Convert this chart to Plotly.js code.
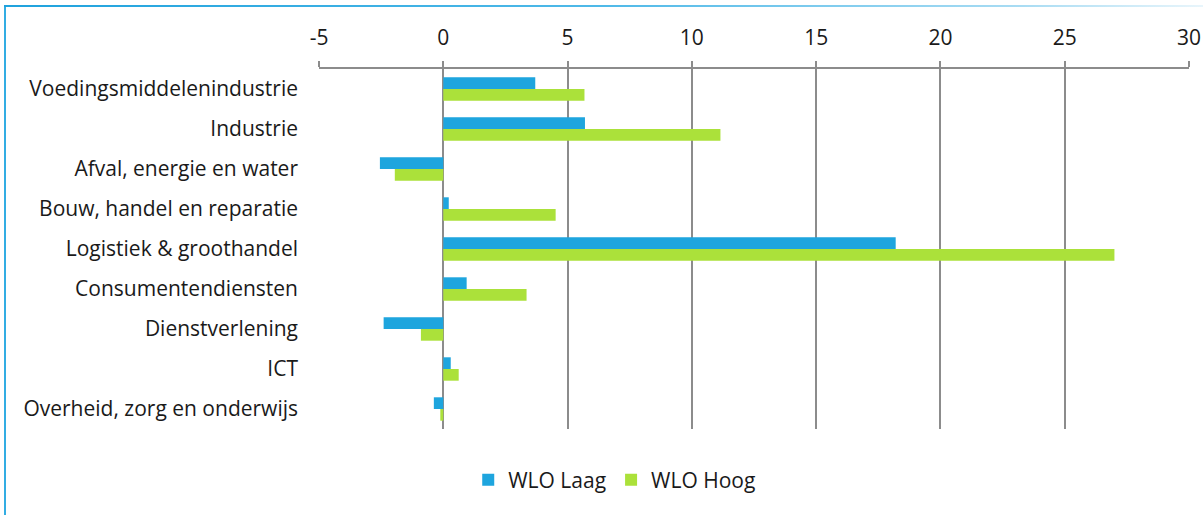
<!DOCTYPE html>
<html>
<head>
<meta charset="utf-8">
<script src="https://cdn.plot.ly/plotly-3.0.1.min.js"></script>
<style>
  html, body { margin: 0; padding: 0; background: #fff; }
  #wrap { position: relative; width: 1203px; height: 515px; }
  #chart { width: 1203px; height: 515px; }
  #bl { position: absolute; left: 4px; top: 6px; width: 2px; height: 509px; background: #33ade3; pointer-events: none; }
  #bt { position: absolute; left: 4px; top: 5px; width: 1199px; height: 2px; pointer-events: none;
        background: linear-gradient(to right, #1fa2dd 0%, #4fb9e8 50%, #a9dcf3 85%, #e8f5fb 100%); }
</style>
</head>
<body>
<div id="wrap">
  <div id="chart"></div>
  <div id="bl"></div>
  <div id="bt"></div>
</div>
<script>
const categories = [
  "Voedingsmiddelenindustrie",
  "Industrie",
  "Afval, energie en water",
  "Bouw, handel en reparatie",
  "Logistiek & groothandel",
  "Consumentendiensten",
  "Dienstverlening",
  "ICT",
  "Overheid, zorg en onderwijs"
];
const wloLaag = [3.7, 5.7, -2.55, 0.22, 18.2, 0.94, -2.4, 0.3, -0.38];
const wloHoog = [5.68, 11.15, -1.95, 4.52, 27.0, 3.35, -0.9, 0.62, -0.12];
const xTickVals = [-5, 0, 5, 10, 15, 20, 25, 30];

const font = "'Open Sans', sans-serif";
const fsize = 21;

const traces = [
  {
    type: "bar", orientation: "h", name: "WLO Laag",
    y: categories, x: wloLaag,
    marker: { color: "#1ea5de" },
    hoverinfo: "x+name"
  },
  {
    type: "bar", orientation: "h", name: "WLO Hoog",
    y: categories, x: wloHoog,
    marker: { color: "#abe13a" },
    hoverinfo: "x+name"
  }
];

const boundaries = categories.map((_, i) => i - 0.5).concat([categories.length - 0.5]);

const layout = {
  width: 1203, height: 515,
  margin: { l: 319, r: 14, t: 69, b: 86 },
  paper_bgcolor: "rgba(0,0,0,0)",
  plot_bgcolor: "rgba(0,0,0,0)",
  font: { family: font, size: fsize, color: "#1a1a1a" },
  barmode: "group",
  bargap: 0.415,
  bargroupgap: 0,
  showlegend: true,
  legend: {
    orientation: "h",
    xref: "container", yref: "container",
    x: 0.511, xanchor: "center",
    y: 0.068, yanchor: "middle",
    font: { family: font, size: fsize, color: "#1a1a1a" },
    itemwidth: 30,
    traceorder: "normal"
  },
  xaxis: {
    side: "top",
    range: [-5, 30],
    tickmode: "array",
    tickvals: xTickVals,
    ticktext: xTickVals.map(String),
    ticks: "outside", ticklen: 6, tickwidth: 2, tickcolor: "#8c8c8c",
    ticklabelstandoff: 8,
    showline: true, linecolor: "#8c8c8c", linewidth: 2,
    showgrid: true, gridcolor: "#8c8c8c", gridwidth: 2,
    zeroline: false,
    tickfont: { family: font, size: fsize, color: "#1a1a1a" },
    fixedrange: true
  },
  yaxis: {
    type: "category",
    categoryorder: "array",
    categoryarray: categories,
    autorange: "reversed",
    ticks: "", showline: false, showgrid: false, zeroline: false,
    ticklabelstandoff: 20,
    tickfont: { family: font, size: fsize, color: "#1a1a1a" },
    fixedrange: true
  },
  yaxis2: {
    overlaying: "y",
    anchor: "free",
    position: (0 - (-5)) / 35,
    side: "left",
    range: [categories.length - 0.5, -0.5],
    tickmode: "array",
    tickvals: boundaries,
    showticklabels: false,
    ticks: "outside", ticklen: 6, tickwidth: 2, tickcolor: "#8c8c8c",
    showline: true, linecolor: "#8c8c8c", linewidth: 2,
    showgrid: false, zeroline: false,
    fixedrange: true
  }
};

Plotly.newPlot("chart", traces, layout, { displayModeBar: false, staticPlot: true });
</script>
</body>
</html>
